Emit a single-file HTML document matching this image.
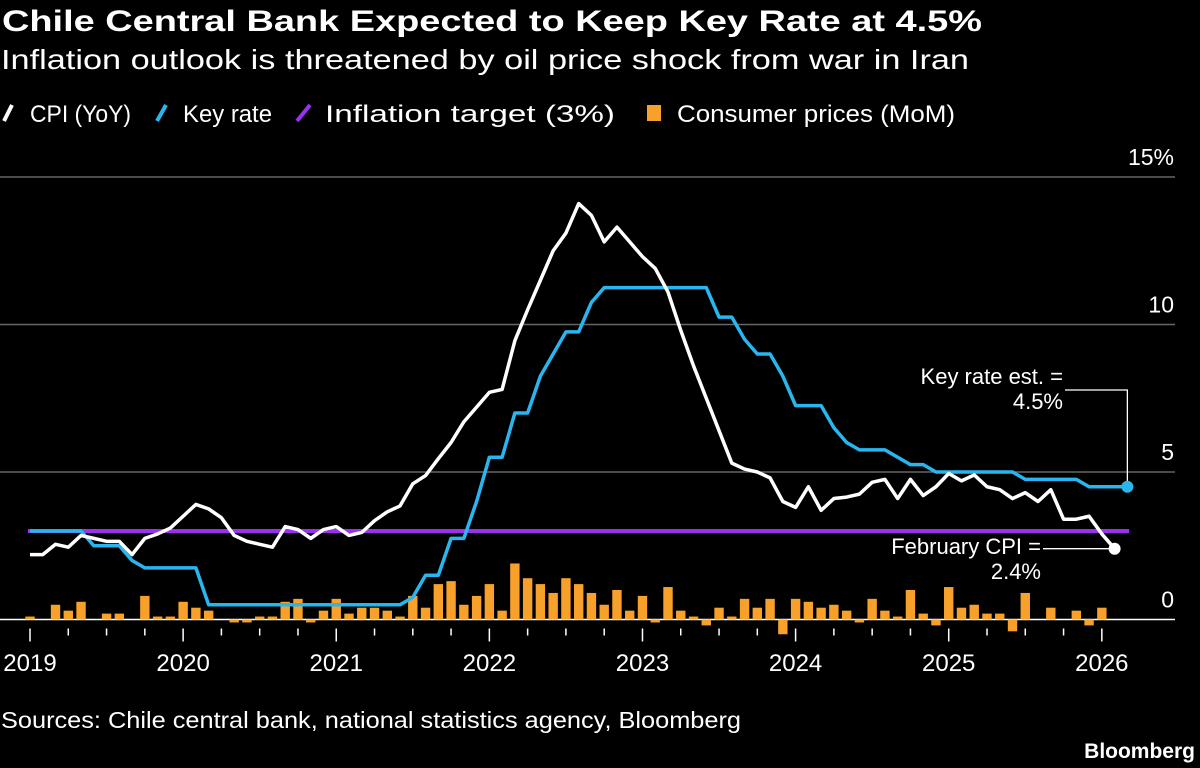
<!DOCTYPE html>
<html><head><meta charset="utf-8"><style>
html,body{margin:0;padding:0;background:#000;width:1200px;height:768px;overflow:hidden}
svg{display:block;font-family:"Liberation Sans",sans-serif}
</style></head><body>
<svg id="chart" width="1200" height="768" viewBox="0 0 1200 768">
<text x="2" y="31" fill="#fff" font-size="30" font-weight="bold" textLength="980" lengthAdjust="spacingAndGlyphs">Chile Central Bank Expected to Keep Key Rate at 4.5%</text>
<text x="1" y="69" fill="#fff" font-size="28" textLength="968" lengthAdjust="spacingAndGlyphs">Inflation outlook is threatened by oil price shock from war in Iran</text>
<g>
<g><line x1="4" y1="121" x2="12" y2="105" stroke="#fff" stroke-width="4"/><text x="30" y="122" fill="#fff" font-size="24" textLength="101" lengthAdjust="spacingAndGlyphs">CPI (YoY)</text></g>
<g><line x1="157" y1="121" x2="166" y2="105" stroke="#29b6ef" stroke-width="4"/><text x="183" y="122" fill="#fff" font-size="24" textLength="89" lengthAdjust="spacingAndGlyphs">Key rate</text></g>
<g><line x1="297" y1="121" x2="310" y2="105" stroke="#9b30f0" stroke-width="4"/><text x="325" y="122" fill="#fff" font-size="24" textLength="290" lengthAdjust="spacingAndGlyphs">Inflation target (3%)</text></g>
<g><rect x="647" y="105" width="14" height="16" fill="#f7a12a"/><text x="677" y="122" fill="#fff" font-size="24" textLength="278" lengthAdjust="spacingAndGlyphs">Consumer prices (MoM)</text></g>
</g>
<g id="grid"></g>
<g id="bars"></g>
<g id="lines"></g>
<g id="xaxis"></g>
<g>
<text x="1063" y="384" fill="#fff" font-size="22" text-anchor="end">Key rate est. =</text>
<text x="1063" y="409" fill="#fff" font-size="22" text-anchor="end">4.5%</text>
<text x="1041" y="554" fill="#fff" font-size="22" text-anchor="end">February CPI =</text>
<text x="1041" y="579" fill="#fff" font-size="22" text-anchor="end">2.4%</text>
</g>
<text x="1" y="728" fill="#fff" font-size="23" textLength="740" lengthAdjust="spacingAndGlyphs">Sources: Chile central bank, national statistics agency, Bloomberg</text>
<text x="1195" y="758" fill="#fff" font-size="21" font-weight="bold" text-anchor="end">Bloomberg</text>
</svg>
<script>
const cpi=[2.2,2.2,2.55,2.45,2.85,2.75,2.65,2.65,2.2,2.75,2.9,3.1,3.5,3.9,3.75,3.45,2.85,2.65,2.55,2.45,3.15,3.05,2.75,3.05,3.15,2.85,2.95,3.35,3.65,3.85,4.6,4.88,5.45,6.0,6.7,7.2,7.7,7.8,9.45,10.5,11.5,12.5,13.1,14.1,13.7,12.8,13.3,12.8,12.3,11.9,11.1,9.8,8.6,7.5,6.4,5.3,5.1,5.0,4.8,4.0,3.8,4.5,3.7,4.1,4.15,4.25,4.65,4.75,4.1,4.75,4.2,4.5,4.95,4.7,4.9,4.5,4.4,4.1,4.3,4.0,4.4,3.4,3.4,3.5,2.9,2.4];
const keyRate=[3,3,3,3,3,2.5,2.5,2.5,2,1.75,1.75,1.75,1.75,1.75,0.5,0.5,0.5,0.5,0.5,0.5,0.5,0.5,0.5,0.5,0.5,0.5,0.5,0.5,0.5,0.5,0.75,1.5,1.5,2.75,2.75,4,5.5,5.5,7,7,8.25,9,9.75,9.75,10.75,11.25,11.25,11.25,11.25,11.25,11.25,11.25,11.25,11.25,10.25,10.25,9.5,9,9,8.25,7.25,7.25,7.25,6.5,6,5.75,5.75,5.75,5.5,5.25,5.25,5,5,5,5,5,5,5,4.75,4.75,4.75,4.75,4.75,4.5,4.5,4.5,4.5];
const mom=[0.1,0,0.5,0.3,0.6,0,0.2,0.2,0,0.8,0.1,0.1,0.6,0.4,0.3,0,-0.1,-0.1,0.1,0.1,0.6,0.7,-0.1,0.3,0.7,0.2,0.4,0.4,0.3,0.1,0.8,0.4,1.2,1.3,0.5,0.8,1.2,0.3,1.9,1.4,1.2,0.9,1.4,1.2,0.9,0.5,1.0,0.3,0.8,-0.1,1.1,0.3,0.1,-0.2,0.4,0.1,0.7,0.4,0.7,-0.5,0.7,0.6,0.4,0.5,0.3,-0.1,0.7,0.3,0.1,1.0,0.2,-0.2,1.1,0.4,0.5,0.2,0.2,-0.4,0.9,0,0.4,0,0.3,-0.2,0.4];
const target=[3,3];
const yTicks=[0,5,10,15];
const yTickLabels=["0","5","10","15%"];
const yearLabels=["2019","2020","2021","2022","2023","2024","2025","2026"];

const NS="http://www.w3.org/2000/svg";
const x=i=>30+i*12.76;
const y=v=>619.5-v*29.5;
function mk(tag,attrs,parent){const e=document.createElementNS(NS,tag);for(const k in attrs)e.setAttribute(k,attrs[k]);parent.appendChild(e);return e;}
const grid=document.getElementById('grid'),bars=document.getElementById('bars'),lines=document.getElementById('lines'),xa=document.getElementById('xaxis');
yTicks.forEach((t,k)=>{
  if(t!==0){const l=mk('line',{x1:0,x2:1175,y1:y(t),y2:y(t),stroke:'#666','stroke-width':1.5},grid);
  
  }
  const tx=mk('text',{x:1174,y:y(t)-12,fill:'#fff','font-size':23,'text-anchor':'end'},grid);
  tx.textContent=yTickLabels[k];
  
  
});
mom.forEach((v,i)=>{
  if(v===0)return;
  const r=mk('rect',{x:x(i)-4.7,width:9.4,y:Math.min(y(v),y(0)),height:Math.abs(y(v)-y(0)),fill:'#f7a12a'},bars);
  
  
});
const zl=mk('line',{x1:0,x2:1175,y1:y(0),y2:y(0),stroke:'#fff','stroke-width':1.5},grid);


const tl=mk('line',{x1:x(0)-2,x2:1129,y1:y(target[0]),y2:y(target[1]),stroke:'#9b30f0','stroke-width':4},lines);


const kp=mk('polyline',{points:keyRate.map((v,i)=>x(i)+','+y(v)).join(' '),fill:'none',stroke:'#29b6ef','stroke-width':3.5,'stroke-linejoin':'round'},lines);


const cp=mk('polyline',{points:cpi.map((v,i)=>x(i)+','+y(v)).join(' '),fill:'none',stroke:'#fff','stroke-width':3.5,'stroke-linejoin':'round'},lines);


const kl=keyRate.length-1, cl=cpi.length-1;
const c1=mk('polyline',{points:`1065,390 ${x(kl)},390 ${x(kl)},${y(keyRate[kl])}`,fill:'none',stroke:'#fff','stroke-width':1.3},lines);


const c2=mk('line',{x1:1043,x2:x(cl),y1:y(cpi[cl]),y2:y(cpi[cl]),stroke:'#fff','stroke-width':1.3},lines);


const d1=mk('circle',{cx:x(kl),cy:y(keyRate[kl]),r:6,fill:'#29b6ef'},lines);


const d2=mk('circle',{cx:x(cl),cy:y(cpi[cl]),r:6,fill:'#fff'},lines);


for(let m=0;m<=84;m+=3){
  const major=m%12===0;
  const t=mk('line',{x1:x(m),x2:x(m),y1:y(0)+9,y2:y(0)+(major?22:16),stroke:'#fff','stroke-width':1.5},xa);
  
  
}
yearLabels.forEach((lab,k)=>{
  const t=mk('text',{x:x(k*12),y:671,fill:'#fff','font-size':24,'text-anchor':'middle'},xa);
  t.textContent=lab;
  
  
});
</script>
</body></html>
